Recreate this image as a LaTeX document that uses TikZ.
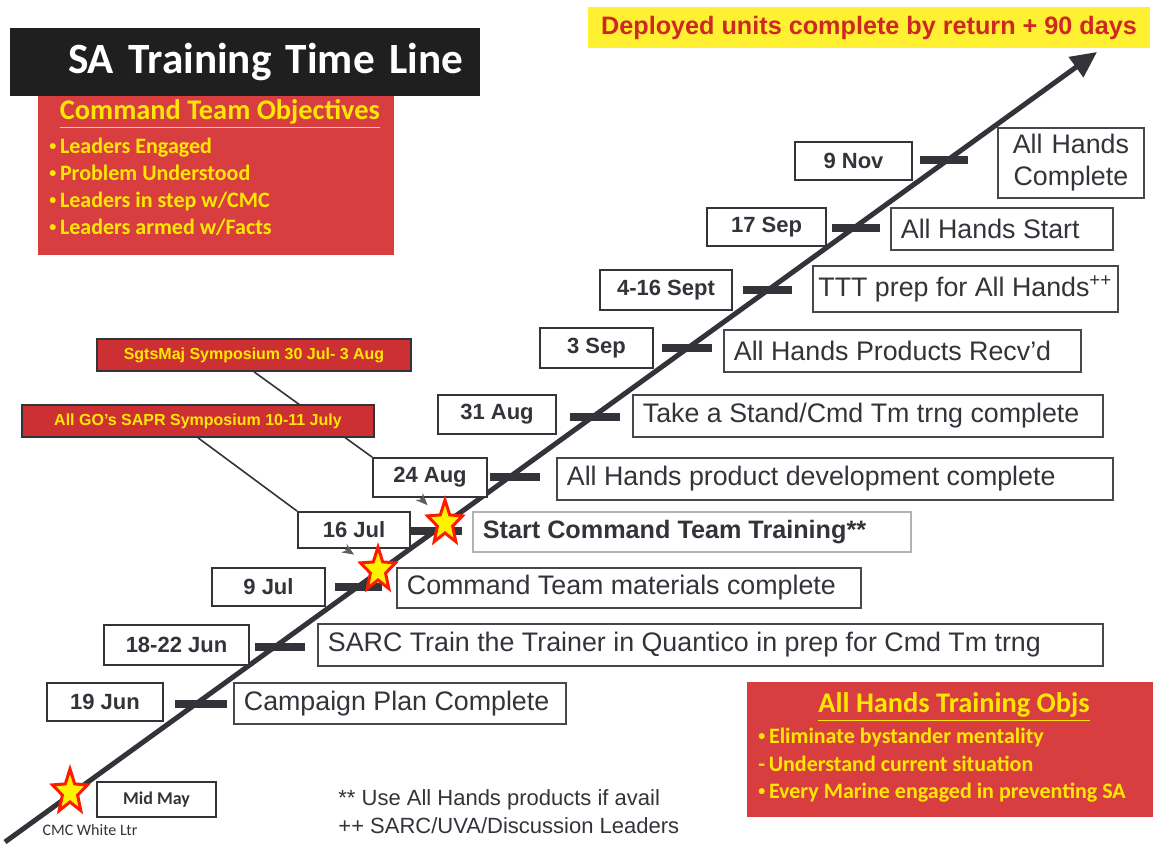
\documentclass[tikz,border=0pt]{standalone}
\usepackage{fontspec}
\setmainfont{Liberation Sans}
\newfontfamily\calib{Carlito}
\usetikzlibrary{shapes.geometric,arrows.meta,backgrounds}

\definecolor{panelred}{RGB}{216,62,64}
\definecolor{tagred}{RGB}{205,48,50}
\definecolor{hiyellow}{RGB}{255,240,50}
\definecolor{txtyellow}{RGB}{255,232,0}
\definecolor{deepred}{RGB}{205,40,35}
\definecolor{ink}{RGB}{50,52,58}

\newcommand{\smallbullet}{{\fontsize{7}{7}\selectfont\raisebox{1.5pt}{\textbullet}}\,}

\begin{document}
\begin{tikzpicture}[x=0.5pt,y=-0.5pt,
  datebox/.style={draw=ink,line width=0.9pt,fill=white,inner sep=0pt,
    font=\fontsize{11}{13}\selectfont\bfseries,text=ink},
  eventbox/.style={draw=ink!90,line width=0.9pt,fill=white,anchor=west,
    inner xsep=5pt,inner ysep=0pt,align=flush left,
    font=\fontsize{13.4}{16}\selectfont,text=ink},
  tick/.style={line width=4pt,ink},
  redtag/.style={draw=ink,line width=0.8pt,fill=tagred,text=txtyellow,
    inner sep=0pt,font=\fontsize{8}{9}\selectfont\bfseries},
  redpanel/.style={fill=panelred,inner sep=0pt},
  paneltitle/.style={text=txtyellow,inner sep=0pt,font=\calib\fontsize{14.2}{16}\selectfont\bfseries},
  panellist/.style={text=txtyellow,inner sep=0pt,align=left,
    font=\calib\fontsize{11}{13.4}\selectfont\bfseries},
  hitstar/.style={star,star points=5,star point ratio=2.3,minimum size=23pt,
    inner sep=0pt,fill=yellow,draw=red!80!orange,line width=1.5pt,
    xscale=0.8,transform shape},
  link/.style={ink,line width=0.8pt},
  pointer/.style={ink!80,line width=0.7pt,-{Stealth[length=6pt,width=5pt]},shorten >=6pt}]
   %
   \useasboundingbox (0,0) rectangle (1154,844);
   %
   % time line
   \coordinate (lstart) at (5,842);
   \coordinate (ltip) at (1097,52);
   \draw[ink,line width=2.5pt,-{Triangle[length=13pt,width=12pt]}] (lstart) -- (ltip);
   %
   \foreach \a/\b/\y in {920/968/160, 832/880/228, 743/792/290, 662/712/348,
                         570/620/417, 490/540/477, 410/462/531, 335/382/587,
                         255/305/647, 175/227/704}
     \draw[tick] (\a,\y) -- (\b,\y);
   %
   % title and objectives
   \node[fill=black!88,minimum width=235pt,minimum height=34pt,inner xsep=8.5pt,
         text width=218pt,align=right,text=white,
         font=\calib\fontsize{21.6}{24}\selectfont\bfseries] (title) at (245,62)
        {SA Training Time Line};
   \node[redpanel,anchor=north west,minimum width=178pt,minimum height=79.5pt] (ctobj) at (38,96) {};
   \node[paneltitle] (ctobjtitle) at (220,114) {\underline{Command Team Objectives}};
   \node[panellist,anchor=north west] (ctobjlist) at (49,138)
        {\smallbullet Leaders Engaged\\ \smallbullet Problem Understood\\
         \smallbullet Leaders in step w/CMC\\ \smallbullet Leaders armed w/Facts};
   %
   \node[fill=hiyellow,minimum width=281pt,minimum height=20.5pt,inner sep=0pt,
         text=deepred,font=\fontsize{12.6}{15}\selectfont\bfseries] (deployed) at (869,27.5)
        {Deployed units complete by return + 90 days};
   %
   % dates
   \node[datebox,minimum width=58.5pt,minimum height=19pt] (d9nov) at (853.5,161) {9 Nov};
   \node[datebox,minimum width=59.5pt,minimum height=19pt] (d17sep) at (766.5,227) {17 Sep};
   \node[datebox,minimum width=66pt,minimum height=20pt] (d416sep) at (666,290) {4-16 Sept};
   \node[datebox,minimum width=56.5pt,minimum height=20pt] (d3sep) at (596.5,348) {3 Sep};
   \node[datebox,minimum width=59pt,minimum height=19.5pt] (d31aug) at (497,414.5) {31 Aug};
   \node[datebox,minimum width=57pt,minimum height=19.5pt] (d24aug) at (430,477.5) {24 Aug};
   \node[datebox,minimum width=56pt,minimum height=18pt] (d16jul) at (354,530) {16 Jul};
   \node[datebox,minimum width=56.5pt,minimum height=19pt] (d9jul) at (268.5,587) {9 Jul};
   \node[datebox,minimum width=72.5pt,minimum height=20pt] (d1822jun) at (176.5,645) {18-22 Jun};
   \node[datebox,minimum width=58pt,minimum height=19pt] (d19jun) at (105,702) {19 Jun};
   \node[datebox,minimum width=59.5pt,minimum height=17.5pt,
         font=\calib\fontsize{9}{11}\selectfont\bfseries] (dmidmay) at (156.5,799.5) {Mid May};
   %
   % events
   \node[eventbox,text width=63pt,minimum height=35pt,align=center] (eahc) at (997,163) {All Hands\\Complete};
   \node[eventbox,text width=101pt,minimum height=21pt] (eahs) at (890,229) {All Hands Start};
   \node[eventbox,minimum width=152.5pt,minimum height=23pt,inner xsep=2pt] (ettt) at (812,289) {TTT prep for All Hands\textsuperscript{++}};
   \node[eventbox,text width=168.5pt,minimum height=21pt] (erecv) at (723,351) {All Hands Products Recv'd};
   \node[eventbox,text width=225pt,minimum height=21pt] (estand) at (632,416) {Take a Stand/Cmd Tm trng complete};
   \node[eventbox,text width=268pt,minimum height=21pt] (edev) at (556,479) {All Hands product development complete};
   \node[eventbox,text width=209pt,minimum height=20pt,draw=black!30,
         font=\fontsize{12.6}{15}\selectfont\bfseries] (estart) at (472,532) {Start Command Team Training**};
   \node[eventbox,text width=222pt,minimum height=20pt] (emat) at (396,588) {Command Team materials complete};
   \node[eventbox,text width=382.5pt,minimum height=21pt] (esarc) at (317,645) {SARC Train the Trainer in Quantico in prep for Cmd Tm trng};
   \node[eventbox,text width=156pt,minimum height=20.5pt] (ecamp) at (233,703.5) {Campaign Plan Complete};
   %
   % stars
   \node[hitstar] (star1) at (445,523) {};
   \node[hitstar] (star2) at (378,570) {};
   \node[hitstar] (star3) at (70,792) {};
   \node[text=ink,inner sep=0pt,font=\calib\fontsize{8}{10}\selectfont] (cmc) at (90,830) {CMC White Ltr};
   %
   % symposia
   \node[redtag,minimum width=157pt,minimum height=16pt] (sgts) at (254,355) {SgtsMaj Symposium 30 Jul- 3 Aug};
   \node[redtag,minimum width=176pt,minimum height=16pt] (gos) at (198,421) {All GO's SAPR Symposium 10-11 July};
   %
   \begin{pgfonlayer}{background}
     \draw[link] (sgts.south) -- (d24aug.north west);
     \draw[link] (gos.south) -- (d16jul.north west);
   \end{pgfonlayer}
   \draw[pointer] (d24aug.245) -- (star1);
   \draw[pointer] (d16jul.245) -- (star2);
   %
   % all hands objectives
   \node[redpanel,anchor=north west,minimum width=203pt,minimum height=67.5pt] (ahobj) at (747,682) {};
   \node[paneltitle] (ahobjtitle) at (954,707) {\underline{All Hands Training Objs}};
   \node[panellist,anchor=north west,font=\calib\fontsize{11}{13.75}\selectfont\bfseries] (ahobjlist) at (758,728)
        {\smallbullet Eliminate bystander mentality\\ -\,Understand current situation\\
         \smallbullet Every Marine engaged in preventing SA};
   %
   % notes
   \node[anchor=west,inner sep=0pt,text=ink,font=\fontsize{11}{13}\selectfont] (note1) at (338,800) {** Use All Hands products if avail};
   \node[anchor=west,inner sep=0pt,text=ink,font=\fontsize{11}{13}\selectfont] (note2) at (338,826) {++ SARC/UVA/Discussion Leaders};
   %
\end{tikzpicture}
\end{document}
